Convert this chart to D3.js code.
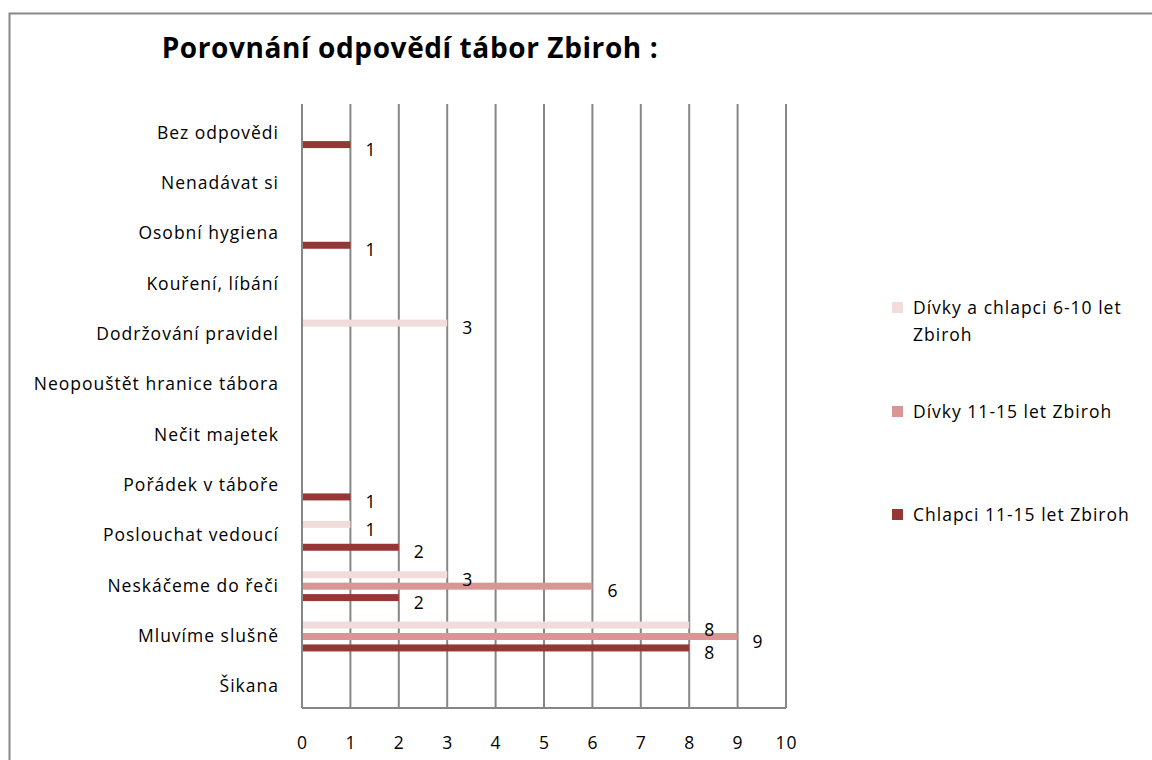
<!DOCTYPE html>
<html>
<head>
<meta charset="utf-8">
<script src="https://cdn.jsdelivr.net/npm/d3@7"></script>
<style>
  body { margin: 0; background: #fff; }
  text { font-family: "Open Sans", Lato, sans-serif; fill: #000; }
</style>
</head>
<body>
<div id="chart"></div>
<script>
// categories top to bottom
var categories = ["Bez odpovědi", "Nenadávat si", "Osobní hygiena", "Kouření, líbání",
    "Dodržování pravidel", "Neopouštět hranice tábora", "Nečit majetek", "Pořádek v táboře",
    "Poslouchat vedoucí", "Neskáčeme do řeči", "Mluvíme slušně", "Šikana"];

var seriesNames = ["Dívky a chlapci 6-10 let Zbiroh", "Dívky 11-15 let Zbiroh", "Chlapci 11-15 let Zbiroh"];

// values per category (same order as categories), null = no answer
var mladsi = [null, null, null, null, 3, null, null, null, 1, 3, 8, null];
var divky = [null, null, null, null, null, null, null, null, null, 6, 9, null];
var chlapci = [1, null, 1, null, null, null, null, 1, 2, 2, 8, null];

var xTicks = [0, 1, 2, 3, 4, 5, 6, 7, 8, 9, 10];
var colors = ["#f2dcdb", "#d99694", "#953735"];

var W = 1152, H = 760;
var plot = { left: 302, right: 786, top: 104, bottom: 708 };
var fontSize = "17.5px", spacing = "1px";

var svg = d3.select("#chart").append("svg")
    .attr("width", W)
    .attr("height", H);

// outer frame
svg.append("rect")
    .attr("x", 9.5).attr("y", 13.5)
    .attr("width", 1160).attr("height", 760)
    .attr("fill", "none")
    .attr("stroke", "#888")
    .attr("stroke-width", 2);

// title
svg.append("text")
    .attr("x", 410).attr("y", 58)
    .attr("text-anchor", "middle")
    .style("font-size", "28px")
    .style("font-weight", "bold")
    .style("letter-spacing", "0.6px")
    .text("Porovnání odpovědí tábor Zbiroh :");

var x = d3.scaleLinear().domain([0, 10]).range([plot.left, plot.right]);

// band centers sit a little lower than the frame in the original
var y = d3.scaleBand().domain(categories).range([plot.top + 4, plot.bottom + 4]);
var sub = d3.scaleBand().domain(seriesNames).range([-20, 20]).padding(0.5);

// vertical gridlines
svg.append("g")
    .selectAll("line")
    .data(xTicks)
    .enter()
    .append("line")
    .attr("x1", function (d) { return x(d); })
    .attr("x2", function (d) { return x(d); })
    .attr("y1", plot.top)
    .attr("y2", plot.bottom)
    .attr("stroke", "#868686")
    .attr("stroke-width", 2);

// bottom axis line
svg.append("line")
    .attr("x1", plot.left).attr("x2", plot.right)
    .attr("y1", plot.bottom).attr("y2", plot.bottom)
    .attr("stroke", "#868686")
    .attr("stroke-width", 2);

// x tick labels
var xAxis = svg.append("g")
    .attr("transform", "translate(0," + (plot.bottom + 35) + ")")
    .call(d3.axisBottom(x).tickValues(xTicks).tickSize(0).tickPadding(0));
xAxis.select(".domain").remove();
xAxis.selectAll("text")
    .style("font-family", "'Open Sans', Lato, sans-serif")
    .style("font-size", fontSize)
    .style("letter-spacing", spacing)
    .attr("dy", "0.35em")
    .attr("fill", "#000");

// category labels
var yAxis = svg.append("g")
    .attr("transform", "translate(" + (plot.left - 23) + ",0)")
    .call(d3.axisLeft(y).tickSize(0).tickPadding(0));
yAxis.select(".domain").remove();
yAxis.selectAll("text")
    .style("font-family", "'Open Sans', Lato, sans-serif")
    .style("font-size", fontSize)
    .style("letter-spacing", spacing)
    .attr("fill", "#000");

// bars
var allSeries = [mladsi, divky, chlapci];
var barData = [];
allSeries.forEach(function (vals, s) {
    vals.forEach(function (v, i) {
        if (v !== null) barData.push({ cat: categories[i], series: seriesNames[s], value: v, color: colors[s] });
    });
});

function barY(d) {
    return y(d.cat) + y.bandwidth() / 2 + sub(d.series) + sub.bandwidth() / 2;
}

svg.append("g")
    .selectAll("rect")
    .data(barData)
    .enter()
    .append("rect")
    .attr("x", x(0) + 1)
    .attr("y", function (d) { return barY(d) - 3.5; })
    .attr("width", function (d) { return x(d.value) - x(0) - 1; })
    .attr("height", 7)
    .attr("fill", function (d) { return d.color; });

// value labels
svg.append("g")
    .selectAll("text")
    .data(barData)
    .enter()
    .append("text")
    .attr("x", function (d) { return x(d.value) + 20; })
    .attr("y", function (d) { return barY(d) + 5; })
    .attr("text-anchor", "middle")
    .attr("dy", "0.35em")
    .style("font-size", fontSize)
    .text(function (d) { return d.value; });

// legend
var legendY = [308, 412, 515];
var legend = svg.append("g");
legend.selectAll("rect")
    .data(seriesNames)
    .enter()
    .append("rect")
    .attr("x", 892)
    .attr("y", function (d, i) { return legendY[i] - 6; })
    .attr("width", 11)
    .attr("height", 11)
    .attr("fill", function (d, i) { return colors[i]; });

var legendLines = [["Dívky a chlapci 6-10 let", "Zbiroh"], ["Dívky 11-15 let Zbiroh"], ["Chlapci 11-15 let Zbiroh"]];
legend.selectAll("text")
    .data(legendLines)
    .enter()
    .append("text")
    .attr("x", 913)
    .attr("y", function (d, i) { return legendY[i]; })
    .style("font-size", fontSize)
    .style("letter-spacing", spacing)
    .each(function (d) {
        var t = d3.select(this);
        d.forEach(function (line, k) {
            t.append("tspan")
                .attr("x", 913)
                .attr("dy", k === 0 ? "0.35em" : "1.55em")
                .text(line);
        });
    });
</script>
</body>
</html>
